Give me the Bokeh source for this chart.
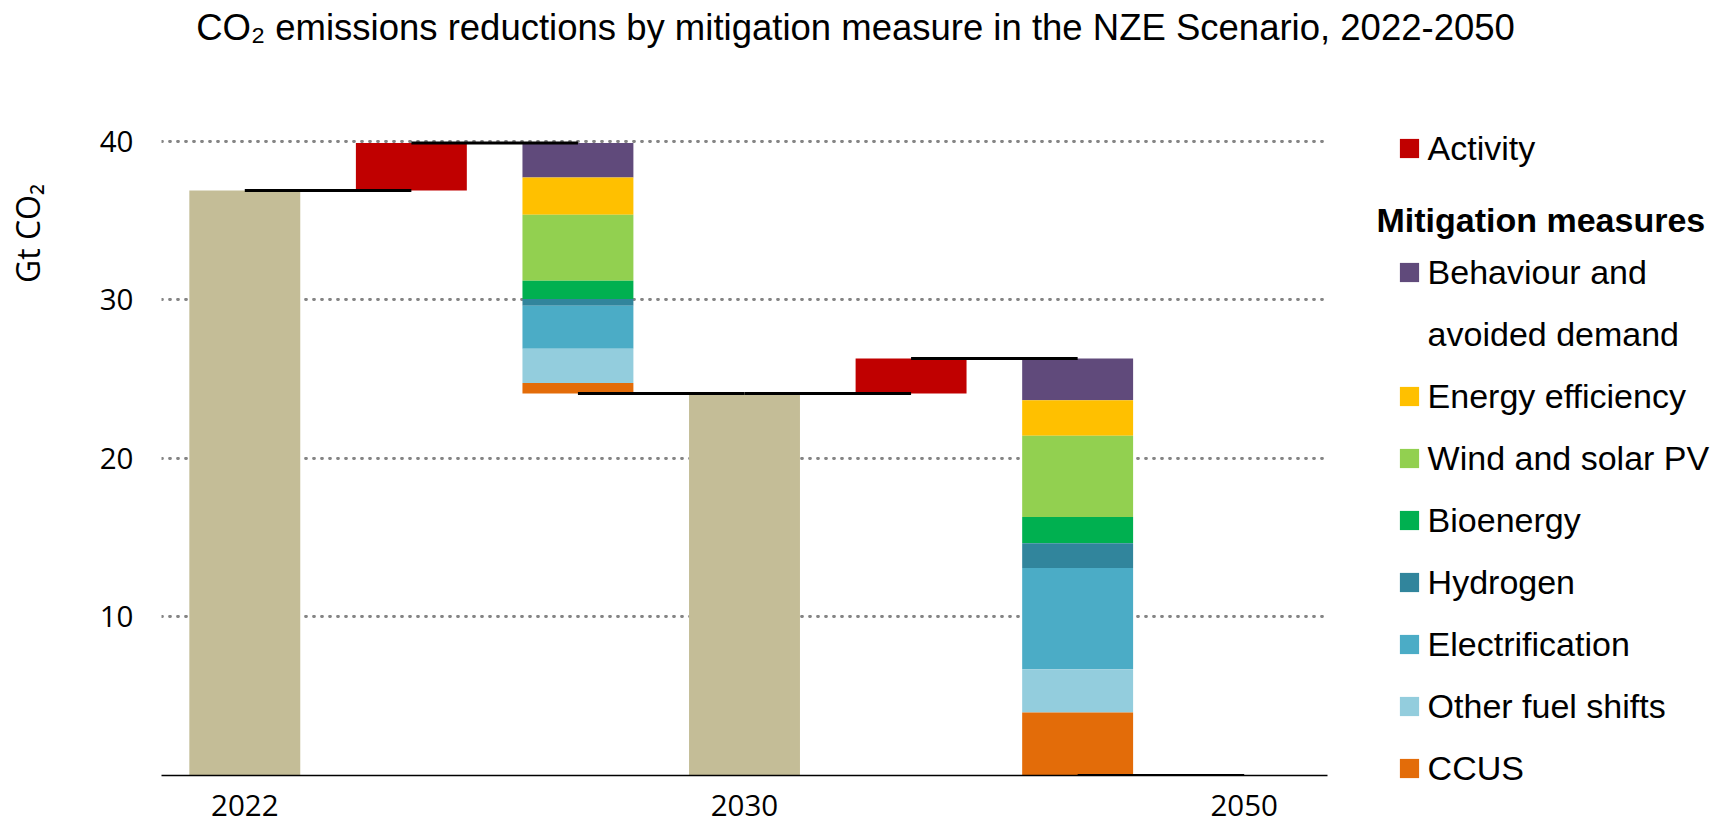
import math
from bokeh.plotting import figure
from bokeh.models import ColumnDataSource, FixedTicker, Legend, LegendItem, Label
from bokeh.layouts import column, row
from bokeh.embed import file_html
from bokeh.resources import INLINE

# ---------------- data ----------------
steps = ["2022", "Activity 2022-2030", "Mitigation 2022-2030", "2030",
         "Activity 2030-2050", "Mitigation 2030-2050", "2050"]
year_ticks = {0: "2022", 3: "2030", 6: "2050"}
emissions_2022 = 36.9
emissions_2030 = 24.1
emissions_2050 = 0.0
activity_2022_2030 = 3.0
activity_2030_2050 = 2.2
measures = ["Behaviour and avoided demand", "Energy efficiency", "Wind and solar PV",
            "Bioenergy", "Hydrogen", "Electrification", "Other fuel shifts", "CCUS"]
legend_labels = [["Behaviour and", "avoided demand"], ["Energy efficiency"],
                 ["Wind and solar PV"], ["Bioenergy"], ["Hydrogen"], ["Electrification"],
                 ["Other fuel shifts"], ["CCUS"]]
reductions_2022_2030 = [2.18, 2.35, 4.16, 1.15, 0.43, 2.71, 2.16, 0.66]
reductions_2030_2050 = [2.62, 2.25, 5.12, 1.66, 1.56, 6.38, 2.74, 3.97]
measure_colors = ["#604A7B", "#FFC000", "#92D050", "#00B050", "#31859C",
                  "#4BACC6", "#93CDDD", "#E36C09"]
total_color = "#C4BD97"
activity_color = "#C00000"
y_ticks = [10, 20, 30, 40]
title_text = "CO\u2082 emissions reductions by mitigation measure in the NZE Scenario, 2022-2050"
y_title = "Gt CO\u2082"

# ---------------- geometry ----------------
W, H = 1722, 826
TITLE_H = 62
YLAB_W = 60
LEG_W = 382
MAIN_W = W - YLAB_W - LEG_W
BODY_H = H - TITLE_H


def blank_fig(w, h, xr=(0, 1)):
    f = figure(width=w, height=h, x_range=xr, y_range=(0, 1),
               output_backend="svg", toolbar_location=None,
               x_axis_location=None, y_axis_location=None,
               min_border=0, min_border_left=0, min_border_right=0,
               min_border_top=0, min_border_bottom=0)
    f.frame_align = False
    f.grid.visible = False
    f.outline_line_color = None
    f.background_fill_color = "white"
    f.border_fill_color = "white"
    return f


# ---------------- title ----------------
tf = blank_fig(W, TITLE_H)
tf.add_layout(Label(x=855, y=TITLE_H - 27, x_units="screen", y_units="screen",
                    text=title_text, text_align="center", text_baseline="middle",
                    text_font="Liberation Sans", text_font_size="36.5px",
                    text_color="black"))

# ---------------- y label ----------------
yf = blank_fig(YLAB_W, BODY_H)
yf.add_layout(Label(x=27, y=BODY_H - (233 - TITLE_H), x_units="screen", y_units="screen",
                    text=y_title, angle=math.pi / 2, text_align="center",
                    text_baseline="middle", text_font="Open Sans", text_font_size="32px",
                    text_color="black"))

# ---------------- main chart ----------------
FRAME_L = 161 - YLAB_W
FRAME_R = 1327 - YLAB_W
FRAME_T = 137 - TITLE_H
FRAME_B = 775 - TITLE_H
p = figure(width=MAIN_W, height=BODY_H, x_range=(-0.5, 6.5), y_range=(0, 40.25),
           output_backend="svg", toolbar_location=None,
           min_border_left=FRAME_L, min_border_right=MAIN_W - FRAME_R,
           min_border_top=FRAME_T, min_border_bottom=BODY_H - FRAME_B)
p.frame_align = False
p.outline_line_color = None
p.background_fill_color = "white"
p.border_fill_color = "white"

bw = 0.666
xi = {s: i for i, s in enumerate(steps)}

tot = ColumnDataSource(dict(x=[xi["2022"], xi["2030"]], top=[emissions_2022, emissions_2030],
                            bottom=[0, 0]))
p.vbar(x="x", top="top", bottom="bottom", width=bw, source=tot,
       fill_color=total_color, line_color=None)

act = ColumnDataSource(dict(x=[xi["Activity 2022-2030"], xi["Activity 2030-2050"]],
                            bottom=[emissions_2022, emissions_2030],
                            top=[emissions_2022 + activity_2022_2030,
                                 emissions_2030 + activity_2030_2050]))
p.vbar(x="x", top="top", bottom="bottom", width=bw, source=act,
       fill_color=activity_color, line_color=None)

start1 = emissions_2022 + activity_2022_2030
start2 = emissions_2030 + activity_2030_2050
lvl1, lvl2 = start1, start2
measure_sources = []
for m, c, r1, r2 in zip(measures, measure_colors, reductions_2022_2030, reductions_2030_2050):
    src = ColumnDataSource(dict(x=[xi["Mitigation 2022-2030"], xi["Mitigation 2030-2050"]],
                                top=[lvl1, lvl2], bottom=[lvl1 - r1, lvl2 - r2]))
    measure_sources.append(src)
    lvl1 -= r1
    lvl2 -= r2
    p.vbar(x="x", top="top", bottom="bottom", width=bw, source=src,
           fill_color=c, line_color=None, name=m)

levels = [emissions_2022, start1, emissions_2030, emissions_2030, start2, emissions_2050]
conn = ColumnDataSource(dict(x0=list(range(len(steps) - 1)), x1=list(range(1, len(steps))),
                             y=levels))
p.segment(x0="x0", y0="y", x1="x1", y1="y", source=conn, line_color="black", line_width=3)

p.xgrid.visible = False
p.ygrid.ticker = FixedTicker(ticks=y_ticks)
p.ygrid.grid_line_color = "#858585"
p.ygrid.grid_line_width = 2.8
p.ygrid.grid_line_dash = "1 7"
p.ygrid.grid_line_cap = "round"

p.yaxis.ticker = FixedTicker(ticks=y_ticks)
p.yaxis.axis_line_color = None
p.yaxis.major_tick_line_color = None
p.yaxis.minor_tick_line_color = None
p.yaxis.major_label_text_font = "Open Sans"
p.yaxis.major_label_text_font_size = "29.5px"
p.yaxis.major_label_text_color = "black"
p.yaxis.major_label_standoff = 22

p.xaxis.ticker = FixedTicker(ticks=list(year_ticks.keys()))
p.xaxis.major_label_overrides = year_ticks
p.xaxis.axis_line_color = "black"
p.xaxis.axis_line_width = 1.5
p.xaxis.major_tick_line_color = None
p.xaxis.minor_tick_line_color = None
p.xaxis.major_label_text_font = "Open Sans"
p.xaxis.major_label_text_font_size = "29.5px"
p.xaxis.major_label_text_color = "black"
p.xaxis.major_label_standoff = 13

# ---------------- legend panel ----------------
# legend renderers reuse the chart's data; the x range keeps them out of view
lf = blank_fig(LEG_W, BODY_H, xr=(-3, -2))
LX0 = MAIN_W + YLAB_W
act_leg = lf.vbar(x="x", top="top", bottom="bottom", width=bw, source=act,
                  fill_color=activity_color, line_color=None)
items_b = []
for labels, c, src in zip(legend_labels, measure_colors, measure_sources):
    rr = lf.vbar(x="x", top="top", bottom="bottom", width=bw, source=src,
                 fill_color=c, line_color=None)
    items_b.append(LegendItem(label=labels[0], renderers=[rr]))
    for extra in labels[1:]:
        hidden = lf.vbar(x="x", top="top", width=bw, source=ColumnDataSource(dict(x=[], top=[])),
                         fill_alpha=0, line_alpha=0)
        items_b.append(LegendItem(label=extra, renderers=[hidden]))

ROW_H, ROW_GAP = 42, 20
GLYPH = 24
LEG_X = 1399 - GLYPH * 0.1
leg_common = dict(border_line_color=None, background_fill_alpha=0, padding=0, margin=0,
                  glyph_width=GLYPH, glyph_height=GLYPH,
                  label_standoff=round(1428 - LEG_X - GLYPH), label_height=ROW_H,
                  spacing=ROW_GAP, label_text_font="Liberation Sans",
                  label_text_font_size="34px", label_text_color="black",
                  label_text_baseline="middle")
act_center = 148 - TITLE_H
leg_a = Legend(items=[LegendItem(label="Activity", renderers=[act_leg])],
               location=(LEG_X - LX0, BODY_H - (act_center + ROW_H / 2)), **leg_common)
first_center = 272 - TITLE_H
n = len(items_b)
b_bottom = first_center - ROW_H / 2 + n * ROW_H + (n - 1) * ROW_GAP
leg_b = Legend(items=items_b, location=(LEG_X - LX0, BODY_H - b_bottom), **leg_common)
lf.add_layout(leg_a)
lf.add_layout(leg_b)
lf.add_layout(Label(x=1376 - LX0, y=BODY_H - (219 - TITLE_H), x_units="screen",
                    y_units="screen", text="Mitigation measures", text_align="left",
                    text_baseline="middle", text_font="Liberation Sans",
                    text_font_size="34px", text_font_style="bold", text_color="black"))

layout = column(tf, row(yf, p, lf, spacing=0), spacing=0)
open("out.html", "w").write(file_html(layout, INLINE))
